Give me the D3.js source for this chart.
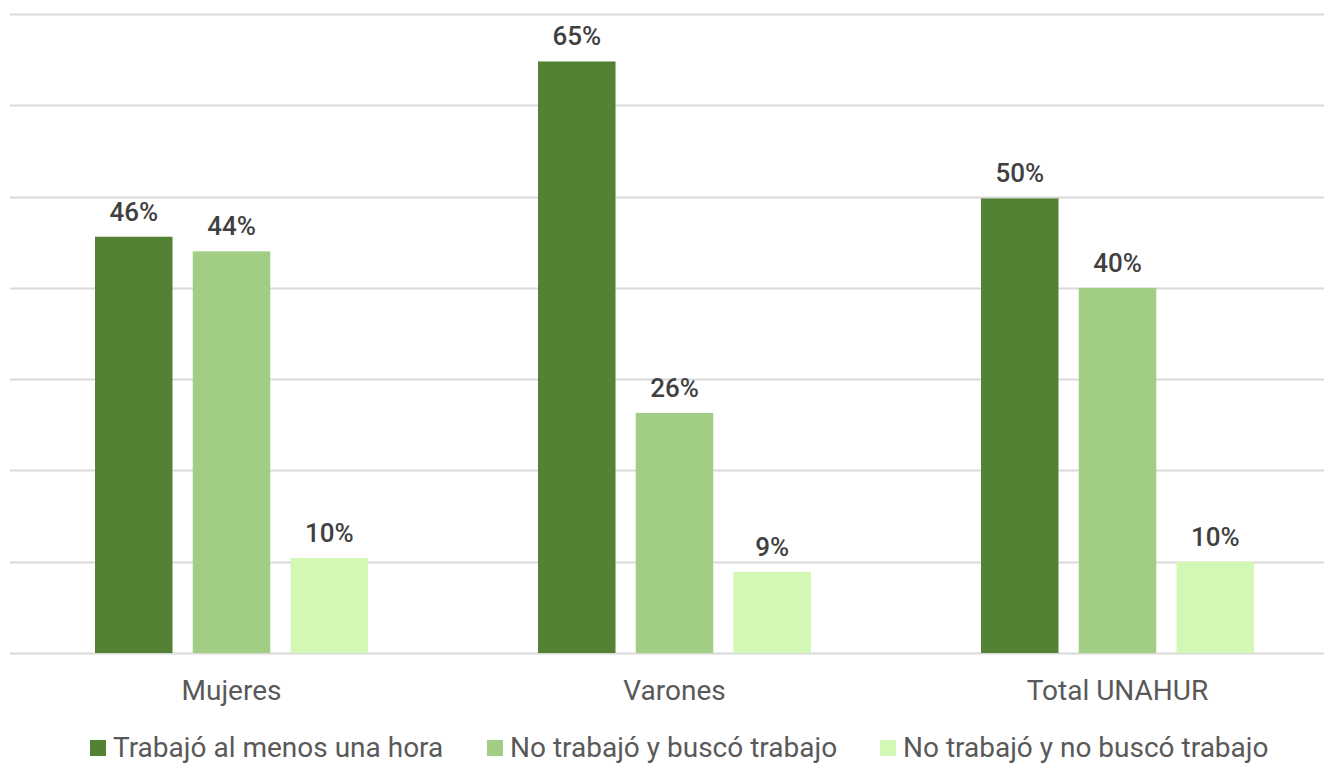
<!DOCTYPE html>
<html><head><meta charset="utf-8">
<script src="https://cdn.jsdelivr.net/npm/d3@7"></script>
<style>body{margin:0;background:#fff;}svg{display:block;font-family:Roboto,"DejaVu Sans",sans-serif;}</style>
</head><body>
<svg id="c" width="1324" height="763"></svg>
<script>
const categories = ["Mujeres", "Varones", "Total UNAHUR"];
const series = ["Trabajó al menos una hora", "No trabajó y buscó trabajo", "No trabajó y no buscó trabajo"];
const trabajo = [45.6, 64.8, 49.8];
const busco = [44.0, 26.3, 40.0];
const noBusco = [10.4, 8.9, 10.0];
const valueLabels = [["46%", "65%", "50%"], ["44%", "26%", "40%"], ["10%", "9%", "10%"]];
const yTicks = [0, 10, 20, 30, 40, 50, 60, 70];
const colors = ["#548235", "#A2CD84", "#D3F7B5"];

const values = [trabajo, busco, noBusco];
const svg = d3.select("#c");
const x = d3.scaleBand().domain(categories).range([10, 1339]);
const xi = d3.scaleBand().domain(series).range([85, 358]).paddingInner(0.207);
const y = d3.scaleLinear().domain([0, 70]).range([653, 14]);

svg.append("g").selectAll("line").data(yTicks).join("line")
  .attr("x1", 10).attr("x2", 1324)
  .attr("y1", d => Math.round(y(d)) + 0.5).attr("y2", d => Math.round(y(d)) + 0.5)
  .attr("stroke", "#d9d9d9").attr("stroke-width", 2);

series.forEach((s, si) => {
  const g = svg.append("g");
  g.selectAll("rect").data(categories).join("rect")
    .attr("x", c => x(c) + xi(s)).attr("width", xi.bandwidth())
    .attr("y", (c, i) => y(values[si][i])).attr("height", (c, i) => y(0) - y(values[si][i]))
    .attr("fill", colors[si]);
  g.selectAll("text").data(categories).join("text")
    .attr("x", c => x(c) + xi(s) + xi.bandwidth() / 2)
    .attr("y", (c, i) => y(values[si][i]) - 16)
    .attr("text-anchor", "middle").attr("font-size", 26).attr("font-weight", 500)
    .attr("fill", "#404040").text((c, i) => valueLabels[si][i]);
});

svg.append("g").selectAll("text").data(categories).join("text")
  .attr("x", c => x(c) + x.bandwidth() / 2).attr("y", 700)
  .attr("text-anchor", "middle").attr("font-size", 28).attr("fill", "#595959").text(c => c);

const legX = [90, 487, 880];
const lg = svg.append("g").selectAll("g").data(series).join("g")
  .attr("transform", (d, i) => `translate(${legX[i]},740)`);
lg.append("rect").attr("width", 16).attr("height", 16).attr("fill", (d, i) => colors[i]);
lg.append("text").attr("x", 23).attr("y", 17).attr("font-size", 28).attr("fill", "#595959").text(d => d);
</script>
</body></html>
